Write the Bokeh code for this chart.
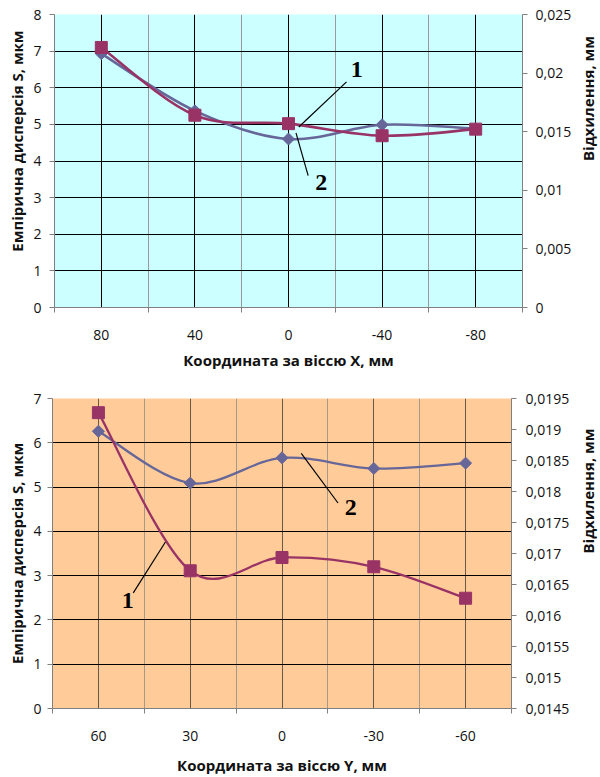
import numpy as np
from bokeh.plotting import figure
from bokeh.models import Range1d, LinearAxis, FixedTicker, ColumnDataSource, Label, Title
from bokeh.embed import file_html
from bokeh.resources import INLINE

# ---------------- data: top chart ----------------
x_labels_top = ["80", "40", "0", "-40", "-80"]
curve1_top = [7.10, 5.25, 5.02, 4.69, 4.87]   # squares
curve2_top = [6.93, 5.37, 4.60, 4.99, 4.88]   # diamonds
left_ticks_top = [0, 1, 2, 3, 4, 5, 6, 7, 8]
right_ticks_top = [0, 0.005, 0.01, 0.015, 0.02, 0.025]
right_labels_top = ["0", "0,005", "0,01", "0,015", "0,02", "0,025"]

# ---------------- data: bottom chart ----------------
x_labels_bot = ["60", "30", "0", "-30", "-60"]
curve1_bot = [6.68, 3.11, 3.41, 3.20, 2.49]   # squares
curve2_bot = [6.26, 5.09, 5.66, 5.42, 5.54]   # diamonds
left_ticks_bot = [0, 1, 2, 3, 4, 5, 6, 7]
right_ticks_bot = [0.0145, 0.015, 0.0155, 0.016, 0.0165, 0.017, 0.0175, 0.018, 0.0185, 0.019, 0.0195]
right_labels_bot = ["0,0145", "0,015", "0,0155", "0,016", "0,0165", "0,017", "0,0175", "0,018", "0,0185", "0,019", "0,0195"]

# callout labels: (text, label x, label y, leader x0, y0, x1, y1) in data units
callouts_top = [("1", 2.73, 6.51, 2.11, 4.93, 2.62, 6.16),
                ("2", 2.35, 3.41, 2.08, 4.77, 2.21, 3.60)]
callouts_bot = [("1", 0.32, 2.45, 0.38, 2.61, 0.73, 3.76),
                ("2", 2.75, 4.55, 2.21, 5.76, 2.61, 4.64)]

XTITLE_TOP = "Координата за віссю X, мм"
XTITLE_BOT = "Координата за віссю Y, мм"
YTITLE = "Емпірична дисперсія S, мкм"
RTITLE = "Відхилення, мм"

C1 = "#993366"
C2 = "#666699"
FONT = "Open Sans"
TICK_SIZE = "14px"
TITLE_SIZE = "15px"


def smooth_segments(xs, ys):
    """Bezier control points (Excel-like smoothed line) between given points."""
    n = len(xs)
    out = {k: [] for k in ("x0", "y0", "x1", "y1", "cx0", "cy0", "cx1", "cy1")}
    for i in range(n - 1):
        im = max(i - 1, 0)
        ip = min(i + 2, n - 1)
        out["x0"].append(xs[i]); out["y0"].append(ys[i])
        out["x1"].append(xs[i + 1]); out["y1"].append(ys[i + 1])
        out["cx0"].append(xs[i] + (xs[i + 1] - xs[im]) / 6.0)
        out["cy0"].append(ys[i] + (ys[i + 1] - ys[im]) / 6.0)
        out["cx1"].append(xs[i + 1] - (xs[ip] - xs[i]) / 6.0)
        out["cy1"].append(ys[i + 1] - (ys[ip] - ys[i]) / 6.0)
    return ColumnDataSource(out)


def make_chart(labels, c1, c2, left_ticks, right_ticks, right_labels, xtitle,
               callouts, bg, vmajor, vminor, width, height, mb, lw,
               lstand, rstand, bstand, ltitle):
    n = len(labels)
    xs = list(range(n))
    y0, y1 = left_ticks[0], left_ticks[-1]
    p = figure(width=width, height=height, output_backend="svg", toolbar_location=None,
               x_range=Range1d(-0.5, n - 0.5), y_range=Range1d(y0, y1),
               min_border_left=mb[0], min_border_right=mb[1],
               min_border_top=mb[2], min_border_bottom=mb[3])
    p.background_fill_color = bg
    p.border_fill_color = "white"
    p.outline_line_color = None
    p.extra_y_ranges = {"right": Range1d(right_ticks[0], right_ticks[-1])}

    xt = FixedTicker(ticks=xs, minor_ticks=[i - 0.5 for i in range(n + 1)])
    xa = p.xaxis[0]
    xa.ticker = xt
    xa.major_label_overrides = {i: lab for i, lab in enumerate(labels)}
    xa.major_tick_out = 0
    xa.major_tick_in = 0
    xa.minor_tick_out = 5
    xa.minor_tick_in = 0
    xa.minor_tick_line_color = "#808080"
    xa.axis_line_color = "#808080"
    xa.major_label_standoff = bstand[0]
    xa.axis_label = xtitle
    xa.axis_label_standoff = bstand[1]

    yt = FixedTicker(ticks=left_ticks)
    ya = p.yaxis[0]
    ya.ticker = yt
    ya.major_tick_out = 5
    ya.major_tick_in = 0
    ya.minor_tick_line_color = None
    ya.major_tick_line_color = "#808080"
    ya.axis_line_color = "#808080"
    ya.major_label_standoff = lstand

    ra = LinearAxis(y_range_name="right", ticker=FixedTicker(ticks=right_ticks),
                    major_label_overrides=dict(zip(right_ticks, right_labels)))
    ra.major_tick_out = 5
    ra.major_tick_in = 0
    ra.minor_tick_line_color = None
    ra.major_tick_line_color = "#808080"
    ra.axis_line_color = "#808080"
    ra.major_label_standoff = rstand[0]
    ra.axis_label = RTITLE
    ra.axis_label_standoff = rstand[1]
    ra.axis_label_orientation = np.pi / 2
    p.add_layout(ra, "right")

    for ax in (xa, ya, ra):
        ax.major_label_text_font = FONT
        ax.major_label_text_font_size = TICK_SIZE
        ax.major_label_text_color = "#111111"
        ax.axis_label_text_font = FONT
        ax.axis_label_text_font_size = TITLE_SIZE
        ax.axis_label_text_font_style = "bold"
        ax.axis_label_text_color = "#111111"

    # left axis title as a side-panel title (allows shifting along the axis)
    lt = Title(text=YTITLE, align=ltitle[1], offset=ltitle[2], standoff=ltitle[0],
               text_font=FONT, text_font_size=TITLE_SIZE, text_font_style="bold",
               text_color="#111111")
    p.add_layout(lt, "left")

    p.xgrid.ticker = xt
    p.xgrid.grid_line_color = vmajor
    p.xgrid.minor_grid_line_color = vminor
    p.ygrid.ticker = yt
    p.ygrid.grid_line_color = "black"

    # curve 2 (diamonds)
    p.bezier(x0="x0", y0="y0", x1="x1", y1="y1", cx0="cx0", cy0="cy0", cx1="cx1", cy1="cy1",
             source=smooth_segments(xs, c2), line_color=C2, line_width=lw)
    p.scatter(xs, c2, marker="square", angle=np.pi / 4, size=8.5, color=C2)
    # curve 1 (squares)
    p.bezier(x0="x0", y0="y0", x1="x1", y1="y1", cx0="cx0", cy0="cy0", cx1="cx1", cy1="cy1",
             source=smooth_segments(xs, c1), line_color=C1, line_width=lw)
    p.scatter(xs, c1, marker="square", size=12, color=C1)

    # callouts
    p.segment(x0=[c[3] for c in callouts], y0=[c[4] for c in callouts],
              x1=[c[5] for c in callouts], y1=[c[6] for c in callouts],
              line_color="black", line_width=1.2)
    for c in callouts:
        p.add_layout(Label(x=c[1], y=c[2], text=c[0], text_font="Liberation Serif",
                           text_font_style="bold", text_font_size="24px",
                           text_align="center", text_baseline="middle", text_color="black"))
    return p


p1 = make_chart(x_labels_top, curve1_top, curve2_top, left_ticks_top, right_ticks_top,
                right_labels_top, XTITLE_TOP, callouts_top, "#CCFFFF", "#000000", "#9a9a9a",
                width=614, height=385, mb=(53, 92, 14, 78), lw=2.6,
                lstand=8, rstand=(8, 14), bstand=(17, 7), ltitle=(8, "right", 16))
p2 = make_chart(x_labels_bot, curve1_bot, curve2_bot, left_ticks_bot, right_ticks_bot,
                right_labels_bot, XTITLE_BOT, callouts_bot, "#FFCC99", "#6b5847", "#a89888",
                width=616, height=392, mb=(48, 105, 13, 68), lw=2.3,
                lstand=6, rstand=(9, 16), bstand=(17, 11), ltitle=(8, "center", 0))

open("out.html", "w").write(file_html([p1, p2], INLINE))
